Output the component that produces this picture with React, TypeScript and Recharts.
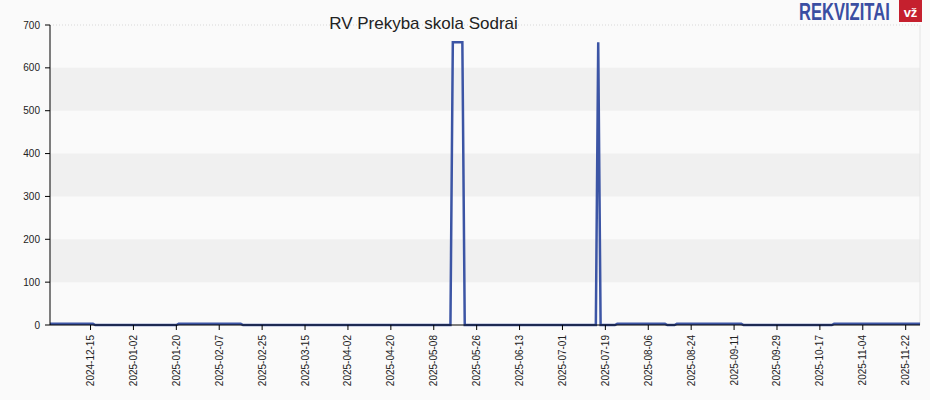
import { LineChart, Line, XAxis, YAxis, ReferenceArea, ReferenceLine } from 'recharts';

const TITLE = 'RV Prekyba skola Sodrai';
const START = '2024-11-28';
const END = '2025-11-28';

// constant runs: each value holds from its date until the next run
const RUN_STARTS = [
  '2024-11-28', '2024-12-17', '2025-01-21', '2025-02-17', '2025-05-16', '2025-05-21',
  '2025-07-16', '2025-07-17', '2025-07-24', '2025-08-14', '2025-08-18', '2025-09-15', '2025-10-23',
];
const RUN_VALUES = [3, 0, 3, 0, 660, 0, 660, 0, 3, 0, 3, 0, 3];

const X_TICKS = [
  '2024-12-15', '2025-01-02', '2025-01-20', '2025-02-07', '2025-02-25', '2025-03-15', '2025-04-02',
  '2025-04-20', '2025-05-08', '2025-05-26', '2025-06-13', '2025-07-01', '2025-07-19', '2025-08-06',
  '2025-08-24', '2025-09-11', '2025-09-29', '2025-10-17', '2025-11-04', '2025-11-22',
];
const Y_TICKS = [0, 100, 200, 300, 400, 500, 600, 700];
const BANDS = [[100, 200], [300, 400], [500, 600]];

const DAY = 86400000;
const ts = (s: string) => Date.parse(s + 'T00:00:00Z');
const fmt = (t: number) => new Date(t).toISOString().slice(0, 10);

const data: { t: number; v: number }[] = [];
for (let t = ts(START); t <= ts(END); t += DAY) {
  let v = 0;
  RUN_STARTS.forEach((s, i) => { if (ts(s) <= t) v = RUN_VALUES[i]; });
  data.push({ t, v });
}

const FONT = '"Liberation Sans", Arial, sans-serif';

const DateTick = ({ x, y, payload }: any) => (
  <text x={x} y={y + 3} transform={`rotate(-90 ${x} ${y + 3})`} textAnchor="end" dominantBaseline="central"
    fontSize={10} fill="#222" fontFamily={FONT}>
    {fmt(payload.value)}
  </text>
);

export default function App() {
  return (
    <div style={{ position: 'absolute', left: 0, top: 0, width: 930, height: 400, background: '#fafafa' }}>
      <LineChart width={930} height={400} data={data} margin={{ top: 25, right: 10, left: 10, bottom: 5 }}>
        {BANDS.map(([a, b]) => (
          <ReferenceArea key={a} y1={a} y2={b} fill="#f0f0f0" fillOpacity={1} stroke="none" />
        ))}
        <ReferenceLine y={700} stroke="#d8d8d8" strokeDasharray="1 2" />
        <ReferenceLine x={ts(END)} stroke="#e4e4e4" />
        <XAxis type="number" dataKey="t" domain={[ts(START), ts(END)]} ticks={X_TICKS.map(ts)} height={70}
          tick={<DateTick />} tickSize={5} axisLine={{ stroke: '#000' }} tickLine={{ stroke: '#000' }} interval={0} />
        <YAxis domain={[0, 700]} ticks={Y_TICKS} width={40} tickSize={5} tickMargin={5} interval={0}
          axisLine={{ stroke: '#000' }} tickLine={{ stroke: '#000' }}
          tick={{ fontSize: 10, fill: '#222', fontFamily: FONT }} />
        <Line type="linear" dataKey="v" stroke="#3c55a5" strokeWidth={2.5} dot={false} isAnimationActive={false} />
      </LineChart>
      <svg width={930} height={400} style={{ position: 'absolute', left: 0, top: 0, pointerEvents: 'none' }}>
        <text x={423.5} y={29} textAnchor="middle" fontSize={17} fill="#222" fontFamily={FONT}>{TITLE}</text>
        <g transform="translate(799 20) scale(0.72 1)">
          <text x={0} y={0} fontSize={23} fontWeight="bold" fill="#3a4ea2" fontFamily={FONT}>REKVIZITAI</text>
        </g>
        <rect x={899} y={0} width={23} height={22} fill="#c5202e" />
        <text x={910.5} y={17} textAnchor="middle" fontSize={13} fontWeight="bold" fill="#fff" fontFamily={FONT}>vž</text>
      </svg>
    </div>
  );
}
